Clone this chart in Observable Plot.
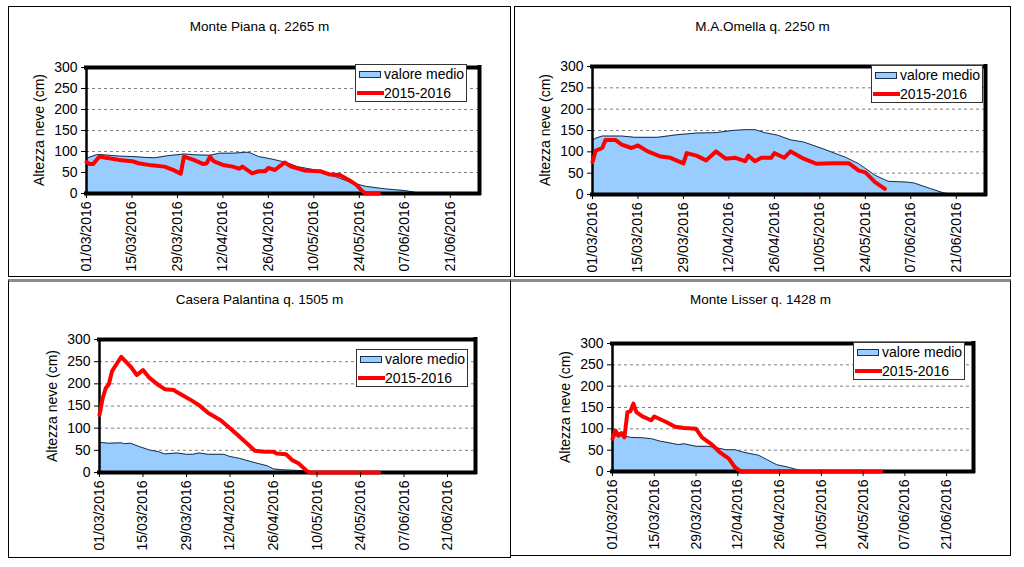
<!DOCTYPE html>
<html>
<head>
<meta charset="utf-8">
<script src="https://cdn.jsdelivr.net/npm/d3@7"></script>
<script src="https://cdn.jsdelivr.net/npm/@observablehq/plot@0.6"></script>
<style>
  html, body { margin: 0; padding: 0; background: #fff; }
  #root { position: relative; width: 1024px; height: 567px; overflow: hidden;
          font-family: Arial, "Liberation Sans", sans-serif; color: #000; }
  .panel { position: absolute; box-sizing: border-box; border: 1px solid #000; background: #fff; }
  .title { position: absolute; text-align: center; font-size: 13.5px; line-height: 16px; color: #000; white-space: nowrap; }
  .ylabel { position: absolute; width: 200px; height: 16px; line-height: 16px; text-align: center;
            font-size: 14px; white-space: nowrap; transform: rotate(-90deg); transform-origin: 50% 50%; }
  .legend { position: absolute; box-sizing: border-box; width: 112px; height: 38px;
            border: 1px solid #333; background: #fff; font-size: 14px; }
  .legend .sw1 { position: absolute; left: 3px; top: 6px; width: 22px; height: 7px; box-sizing: border-box;
                 background: #99ccff; border: 1px solid #1a2f4a; }
  .legend .sw2 { position: absolute; left: 1px; top: 26px; width: 27px; height: 4px; background: #ff0000; }
  .legend .t { position: absolute; left: 28px; line-height: 17px; white-space: nowrap; }
  svg { position: absolute; }
</style>
</head>
<body>
<div id="root"></div>
<script>
// ---------- data (days since 01/03/2016, snow depth in cm) ----------
const DAY0 = "2016-03-01";
const xTickLabels = ["01/03/2016","15/03/2016","29/03/2016","12/04/2016","26/04/2016",
                     "10/05/2016","24/05/2016","07/06/2016","21/06/2016"];
const xDomainLabels = ["01/03/2016", "30/06/2016"];
const yTicks = [0, 50, 100, 150, 200, 250, 300];
const gridValues = [50, 100, 150, 200, 250];
const seriesNames = ["valore medio", "2015-2016"];
const yLabel = "Altezza neve (cm)";

const titles = ["Monte Piana q. 2265 m", "M.A.Omella q. 2250 m",
                "Casera Palantina q. 1505 m", "Monte Lisser q. 1428 m"];

const pianaMean = [[0,84],[3,92],[4,93],[10,89],[14,88],[18,86],[21,85],[25,90],[30,94],[34,92],[38,91],[41,96],[45,96],[49,98],[50,98],[53,88],[57,82],[61,75],[65,64],[71,55],[77,39],[82,25],[86,17],[92,11],[98,7],[101,3],[104,0]];
const pianaCur = [[0,75],[1,70],[2,70],[4,88],[6,85],[10,80],[14,77],[16,72],[20,67],[24,64],[27,55],[29,47],[30,88],[33,80],[36,70],[37,72],[38,88],[39,78],[40,74],[42,68],[45,64],[47,59],[48,64],[51,48],[53,53],[55,53],[56,61],[58,56],[61,74],[63,64],[67,55],[72,53],[75,45],[78,44],[81,31],[83,21],[85,5],[86,0],[90,0]];

const omellaMean = [[0,128],[1,132],[3,137],[9,137],[13,134],[20,134],[26,140],[32,144],[38,145],[43,150],[47,152],[50,152],[53,145],[57,139],[61,128],[65,123],[71,107],[78,87],[82,72],[87,45],[91,31],[97,29],[99,27],[104,14],[108,4],[111,0]];
const omellaCur = [[0,76],[1,103],[3,109],[4,128],[7,128],[9,117],[12,109],[14,115],[17,101],[21,89],[24,86],[28,73],[29,97],[32,91],[35,80],[38,101],[41,84],[44,86],[47,78],[48,91],[50,78],[52,86],[55,86],[56,97],[59,86],[61,101],[65,84],[69,72],[74,73],[79,73],[82,56],[84,52],[87,29],[90,13]];

const palantinaMean = [[0,68],[3,66],[7,67],[8,65],[10,66],[13,58],[16,51],[19,47],[21,42],[25,44],[28,41],[30,41],[32,44],[35,41],[40,41],[42,36],[45,32],[49,24],[54,15],[56,8],[59,6],[66,4],[68,0]];
const palantinaCur = [[0,130],[1,167],[2,190],[3,199],[4,228],[5,239],[7,261],[10,239],[12,220],[14,231],[16,214],[19,197],[21,188],[24,186],[25,181],[27,173],[30,161],[32,152],[35,134],[39,118],[42,100],[45,81],[48,62],[50,49],[53,47],[56,47],[57,43],[60,41],[62,28],[64,21],[67,2],[68,0],[90,0]];

const lisserMean = [[0,84],[4,84],[6,80],[10,79],[13,77],[16,71],[20,66],[22,63],[24,65],[28,59],[32,59],[34,57],[38,51],[41,51],[44,45],[49,38],[52,27],[55,16],[59,10],[62,4],[65,0]];
const lisserCur = [[0,77],[1,96],[2,84],[3,90],[4,80],[5,139],[6,141],[7,159],[8,139],[10,129],[12,123],[13,120],[14,129],[18,116],[21,105],[24,102],[28,100],[30,80],[33,65],[36,45],[39,30],[41,10],[43,0],[90,0]];

// ---------- layout ----------
const parseDMY = d3.utcParse("%d/%m/%Y");
const day0 = d3.utcParse("%Y-%m-%d")(DAY0);
const toDate = d => d3.utcDay.offset(day0, d);
const xTicks = xTickLabels.map(parseDMY);
const xDomain = xDomainLabels.map(parseDMY);

const panels = [
  {title: titles[0], box: [8, 6, 511, 277], titleY: 27, plot: [86, 67, 479, 193], legend: [355, 64], mean: pianaMean, cur: pianaCur},
  {title: titles[1], box: [514, 6, 1011, 277], titleY: 27, plot: [592, 66, 985, 194], legend: [871, 65], mean: omellaMean, cur: omellaCur},
  {title: titles[2], box: [8, 279, 511, 558], titleY: 300, plot: [99, 339, 475, 472], legend: [356, 349], mean: palantinaMean, cur: palantinaCur, topGray: true},
  {title: titles[3], box: [510, 279, 1011, 556], titleY: 300, plot: [612, 343, 973, 471], legend: [853, 342], mean: lisserMean, cur: lisserCur, topGray: true}
];

const root = document.getElementById("root");

for (const p of panels) {
  const [bl, bt, br, bb] = p.box;
  const panel = document.createElement("div");
  panel.className = "panel";
  Object.assign(panel.style, {left: bl + "px", top: bt + "px", width: (br - bl) + "px", height: (bb - bt) + "px"});
  if (p.topGray) panel.style.borderTop = "3px solid #8c8c8c";
  root.appendChild(panel);

  const title = document.createElement("div");
  title.className = "title";
  title.textContent = p.title;
  Object.assign(title.style, {left: bl + "px", width: (br - bl) + "px", top: (p.titleY - 8) + "px"});
  root.appendChild(title);

  const svgLeft = bl + 1, svgTop = p.titleY + 12;
  const width = br - bl - 2, height = bb - 1 - svgTop;
  const [pl, pt, pr, pb] = p.plot;

  const meanData = p.mean.map(([d, v]) => ({date: toDate(d), v}));
  const curData = p.cur.map(([d, v]) => ({date: toDate(d), v}));
  const xmin = xDomain[0], xmax = xDomain[1];

  const chart = Plot.plot({
    width, height,
    marginLeft: pl - svgLeft, marginTop: pt - svgTop,
    marginRight: svgLeft + width - pr, marginBottom: svgTop + height - pb,
    style: {fontFamily: "Arial, 'Liberation Sans', sans-serif", fontSize: "14px", color: "#000", background: "transparent", overflow: "visible"},
    x: {type: "utc", domain: xDomain},
    y: {domain: [0, 300]},
    marks: [
      Plot.ruleY(gridValues, {stroke: "#808080", strokeWidth: 1, strokeDasharray: "3,3"}),
      Plot.areaY(meanData, {x: "date", y: "v", fill: "#99ccff"}),
      Plot.lineY(meanData, {x: "date", y: "v", stroke: "#1a2f4a", strokeWidth: 1}),
      Plot.ruleY([300], {stroke: "#000", strokeWidth: 4, strokeLinecap: "square"}),
      Plot.ruleY([0], {stroke: "#000", strokeWidth: 4, strokeLinecap: "square"}),
      Plot.ruleX([xmax], {stroke: "#000", strokeWidth: 4, strokeLinecap: "square"}),
      Plot.ruleX([xmin], {stroke: "#000", strokeWidth: 2.5}),
      Plot.lineY(curData, {x: "date", y: "v", stroke: "#ff0000", strokeWidth: 4, strokeLinejoin: "round"}),
      Plot.axisX(xTicks, {tickFormat: d3.utcFormat("%d/%m/%Y"), tickRotate: -90, tickSize: 5, tickPadding: 3, label: null}),
      Plot.axisY(yTicks, {tickSize: 5, tickPadding: 4, label: null})
    ]
  });
  chart.style.left = svgLeft + "px";
  chart.style.top = svgTop + "px";
  root.appendChild(chart);

  // rotated y-axis title, centred 47px left of the plot frame
  const yl = document.createElement("div");
  yl.className = "ylabel";
  yl.textContent = yLabel;
  const cx = pl - 47, cy = (pt + pb) / 2;
  Object.assign(yl.style, {left: (cx - 100) + "px", top: (cy - 8) + "px"});
  root.appendChild(yl);

  const lg = document.createElement("div");
  lg.className = "legend";
  Object.assign(lg.style, {left: p.legend[0] + "px", top: p.legend[1] + "px"});
  lg.innerHTML = `<div class="sw1"></div><div class="t" style="top:1px">${seriesNames[0]}</div>` +
                 `<div class="sw2"></div><div class="t" style="top:20px">${seriesNames[1]}</div>`;
  root.appendChild(lg);
}
</script>
</body>
</html>
